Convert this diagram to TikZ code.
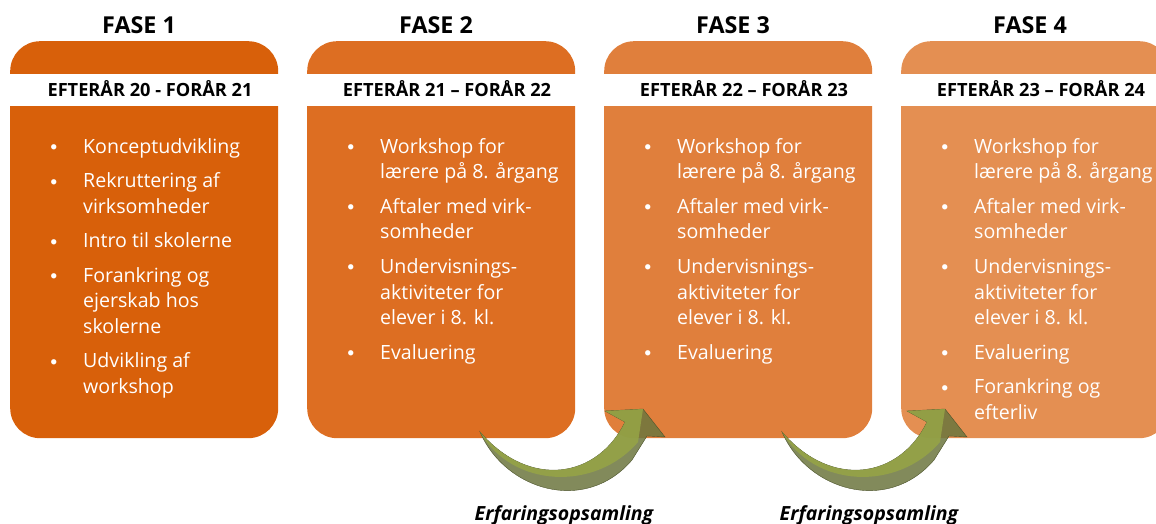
\documentclass[tikz,border=0pt]{standalone}
\usepackage{fontspec}
\setmainfont{Open Sans}
\newfontfamily\punktfont{Carlito}
\usetikzlibrary{positioning}

\definecolor{fasea}{RGB}{216,96,10}
\definecolor{faseb}{RGB}{221,110,34}
\definecolor{fasec}{RGB}{224,127,60}
\definecolor{fased}{RGB}{228,143,82}
\definecolor{pillys}{RGB}{150,165,70}
\definecolor{pilmoerk}{RGB}{108,118,62}

\tikzset{
  boks/.style={rounded corners=30pt, minimum width=268pt, minimum height=397pt, anchor=north west, inner sep=0pt},
  overskrift/.style={font=\fontsize{23.3}{27}\selectfont\bfseries, anchor=base, inner sep=0pt},
  periode/.style={font=\fontsize{18.2}{22}\selectfont\bfseries, anchor=base, inner sep=0pt},
  liste/.style={font=\fontsize{19.6}{25.7}\selectfont, text=white, anchor=north west, inner sep=0pt},
  erfaring/.style={font=\fontsize{19.5}{23}\selectfont\bfseries\itshape, anchor=base, inner sep=0pt}
}

\newcommand{\pkt}{\raisebox{1.5pt}{\punktfont\fontsize{15}{15}\selectfont\textbullet}}
\newcommand{\fasepunkter}{\pkt & Workshop for\\ & lærere på 8. årgang\\[8.7pt]
  \pkt & Aftaler med virk-\\ & somheder\\[8.7pt]
  \pkt & Undervisnings-\\ & aktiviteter for\\ & elever i 8. kl.\\[8.7pt]
  \pkt & Evaluering}

\newcommand{\erfaringspil}{%
  \fill[pilmoerk, fill opacity=0.85, draw=pilmoerk!70!black, line width=0.4pt]
    (480,432) .. controls (505,490) and (585,515) .. (632,460) -- (647,436) -- (665,437)
    -- (643,409) -- (605,411) -- (625,422) .. controls (598,478) and (530,490) .. (480,432) -- cycle;
  \fill[pillys, fill opacity=0.85]
    (480,432) .. controls (530,490) and (598,478) .. (625,422) -- (605,411) -- (643,409)
    -- (638,442) .. controls (595,492) and (512,488) .. (480,432) -- cycle;
}

\begin{document}
\begin{tikzpicture}[x=1pt, y=-1pt]
\clip (0,0) rectangle (1156,524);
\foreach \i/\x/\farve/\per in {1/10/fasea/{EFTERÅR 20 - FORÅR 21}, 2/307/faseb/{EFTERÅR 21 – FORÅR 22}, 3/604/fasec/{EFTERÅR 22 – FORÅR 23}, 4/901/fased/{EFTERÅR 23 – FORÅR 24}}{
  \node[boks, fill=\farve] (boks\i) at (\x,41) {};
  \fill[white] (\x-5,74) rectangle (\x+275,106);
  \node[overskrift] (fase\i) at (\x+129,34) {FASE \i};
  \node[periode] (periode\i) at (\x+140,96.5) {\per};
}

\node[liste] (liste1) at (50,135) {\begin{tabular}{@{}p{33pt}@{}l@{}}
  \pkt & Konceptudvikling\\[8.7pt]
  \pkt & Rekruttering af\\ & virksomheder\\[8.7pt]
  \pkt & Intro til skolerne\\[8.7pt]
  \pkt & Forankring og\\ & ejerskab hos\\ & skolerne\\[8.7pt]
  \pkt & Udvikling af\\ & workshop
\end{tabular}};
\node[liste] (liste2) at (347,135) {\begin{tabular}{@{}p{33pt}@{}l@{}}\fasepunkter\end{tabular}};
\node[liste] (liste3) at (644,135) {\begin{tabular}{@{}p{33pt}@{}l@{}}\fasepunkter\end{tabular}};
\node[liste] (liste4) at (941,135) {\begin{tabular}{@{}p{33pt}@{}l@{}}\fasepunkter\\[8.7pt]
  \pkt & Forankring og\\ & efterliv\end{tabular}};

\erfaringspil
\begin{scope}[xshift=302pt]
\erfaringspil
\end{scope}

\node[erfaring] (erfaring1) at (564,520) {Erfaringsopsamling};
\node[erfaring] (erfaring2) at (869,520) {Erfaringsopsamling};
\end{tikzpicture}
\end{document}
